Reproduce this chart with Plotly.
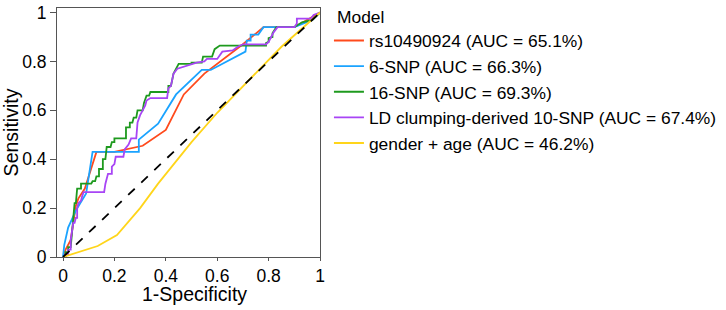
import plotly.graph_objects as go

# ROC curve data (1-Specificity, Sensitivity)
rs_x = [0, 0.01, 0.03, 0.04, 0.05, 0.06, 0.085, 0.13, 0.2, 0.31, 0.33, 0.4, 0.47, 0.55, 0.7, 0.78, 0.9, 1]
rs_y = [0, 0.03, 0.07, 0.15, 0.21, 0.24, 0.28, 0.43, 0.43, 0.455, 0.47, 0.52, 0.665, 0.75, 0.87, 0.94, 0.94, 1]

snp6_x = [0, 0.005, 0.02, 0.05, 0.09, 0.115, 0.295, 0.295, 0.37, 0.44, 0.54, 0.575, 0.71, 0.715, 0.73, 0.73, 0.76, 0.78, 0.9, 0.97, 1]
snp6_y = [0, 0.05, 0.12, 0.19, 0.26, 0.43, 0.43, 0.48, 0.545, 0.665, 0.765, 0.765, 0.84, 0.885, 0.885, 0.91, 0.91, 0.94, 0.94, 0.97, 1]

snp16_x = [0, 0.01, 0.01, 0.02, 0.02, 0.03, 0.035, 0.04, 0.045, 0.05, 0.055, 0.07, 0.07, 0.11, 0.115, 0.125, 0.13, 0.14, 0.14, 0.155,
           0.155, 0.165, 0.17, 0.185, 0.19, 0.2, 0.2, 0.245, 0.245, 0.26, 0.26, 0.27, 0.275, 0.285, 0.29, 0.31, 0.315, 0.325,
           0.335, 0.34, 0.41, 0.41, 0.42, 0.43, 0.44, 0.45, 0.5, 0.5, 0.54, 0.545, 0.58, 0.59, 0.61, 0.79, 0.79, 0.8, 0.8,
           0.815, 0.815, 0.83, 0.9, 0.93, 0.97, 1]
snp16_y = [0, 0, 0.02, 0.02, 0.04, 0.04, 0.1, 0.15, 0.22, 0.22, 0.28, 0.28, 0.30, 0.30, 0.31, 0.31, 0.33, 0.33, 0.36, 0.36,
           0.40, 0.40, 0.45, 0.45, 0.47, 0.47, 0.485, 0.485, 0.53, 0.53, 0.55, 0.55, 0.57, 0.57, 0.60, 0.60, 0.63, 0.66,
           0.66, 0.675, 0.675, 0.70, 0.70, 0.75, 0.77, 0.79, 0.79, 0.795, 0.795, 0.82, 0.82, 0.85, 0.865, 0.865, 0.875, 0.88, 0.895,
           0.90, 0.915, 0.94, 0.94, 0.96, 0.97, 1]

ld_x = [0, 0.01, 0.01, 0.02, 0.02, 0.03, 0.03, 0.035, 0.04, 0.045, 0.05, 0.055, 0.055, 0.06, 0.07, 0.075, 0.08, 0.16, 0.165,
        0.175, 0.19, 0.19, 0.2, 0.205, 0.235, 0.24, 0.255, 0.265, 0.285, 0.29, 0.3, 0.31, 0.32, 0.325, 0.34, 0.405, 0.41,
        0.42, 0.43, 0.445, 0.46, 0.52, 0.55, 0.56, 0.6, 0.62, 0.66, 0.68, 0.7, 0.79, 0.8, 0.82, 0.835, 0.9, 0.91, 0.91,
        0.965, 0.975, 1]
ld_y = [0, 0, 0.01, 0.01, 0.03, 0.03, 0.07, 0.1, 0.14, 0.14, 0.16, 0.16, 0.2, 0.22, 0.23, 0.25, 0.265, 0.265, 0.3,
        0.34, 0.34, 0.37, 0.38, 0.41, 0.41, 0.44, 0.46, 0.485, 0.485, 0.55, 0.58, 0.6, 0.62, 0.64, 0.65, 0.65, 0.69,
        0.70, 0.75, 0.77, 0.775, 0.795, 0.8, 0.81, 0.81, 0.84, 0.845, 0.86, 0.87, 0.87, 0.88, 0.92, 0.94, 0.94, 0.955, 0.975,
        0.975, 0.99, 1]

ga_x = [0, 0.135, 0.21, 0.3, 0.37, 0.5, 0.6, 0.72, 0.85, 1]
ga_y = [0, 0.045, 0.09, 0.2, 0.3, 0.47, 0.59, 0.72, 0.86, 1]

names = ["rs10490924 (AUC = 65.1%)", "6-SNP (AUC = 66.3%)", "16-SNP (AUC = 69.3%)",
         "LD clumping-derived 10-SNP (AUC = 67.4%)", "gender + age (AUC = 46.2%)"]
colors = ["#FF4A1C", "#1AA3FF", "#1E9A1E", "#A845F5", "#FFD51A"]
xs = [rs_x, snp6_x, snp16_x, ld_x, ga_x]
ys = [rs_y, snp6_y, snp16_y, ld_y, ga_y]
legend_title = "Model"

diag = [0, 1]
tick_vals = [0, 0.2, 0.4, 0.6, 0.8, 1]
tick_text = ["0", "0.2", "0.4", "0.6", "0.8", "1"]

fig = go.Figure()
for i in range(5):
    fig.add_trace(go.Scatter(x=xs[i], y=ys[i], mode="lines", name=names[i],
                             line=dict(color=colors[i], width=1.8)))
fig.add_trace(go.Scatter(x=diag, y=diag, mode="lines", showlegend=False,
                         line=dict(color="black", width=1.8, dash="dash")))

axis_common = dict(showline=True, mirror=True, linecolor="#555555", linewidth=1,
                   showgrid=False, zeroline=False, ticks="outside", tickcolor="#555555",
                   tickvals=tick_vals, ticktext=tick_text, ticklabeloverflow="allow",
                   tickfont=dict(size=17.5, color="black"))
fig.update_layout(
    width=726, height=310,
    margin=dict(l=57, r=406, t=3, b=53),
    paper_bgcolor="white", plot_bgcolor="white",
    font=dict(family="Arial, Liberation Sans, sans-serif", color="black"),
    xaxis=dict(range=[-0.0234, 1.0], ticklen=3, **axis_common),
    yaxis=dict(range=[0, 1.0185], title=dict(text="Sensitivity", font=dict(size=19.5), standoff=2),
               ticklen=6, **axis_common),
    legend=dict(font=dict(size=17.4),
                x=1.034, xanchor="left", y=0.941, yanchor="top",
                bgcolor="rgba(0,0,0,0)", itemwidth=30, tracegroupgap=0),
    showlegend=True,
    annotations=[
        dict(text="1-Specificity", xref="x", x=0.51, yref="paper", y=0,
             yanchor="middle", yshift=-37, showarrow=False,
             font=dict(size=19.5, color="black")),
        dict(text=legend_title, xref="paper", x=1.057, xanchor="left",
             yref="paper", y=0.965, yanchor="middle", showarrow=False,
             font=dict(size=17.4, color="black")),
    ],
)
fig.write_html("out.html", config={"displayModeBar": False},
               post_script="document.body.style.margin='0';")
